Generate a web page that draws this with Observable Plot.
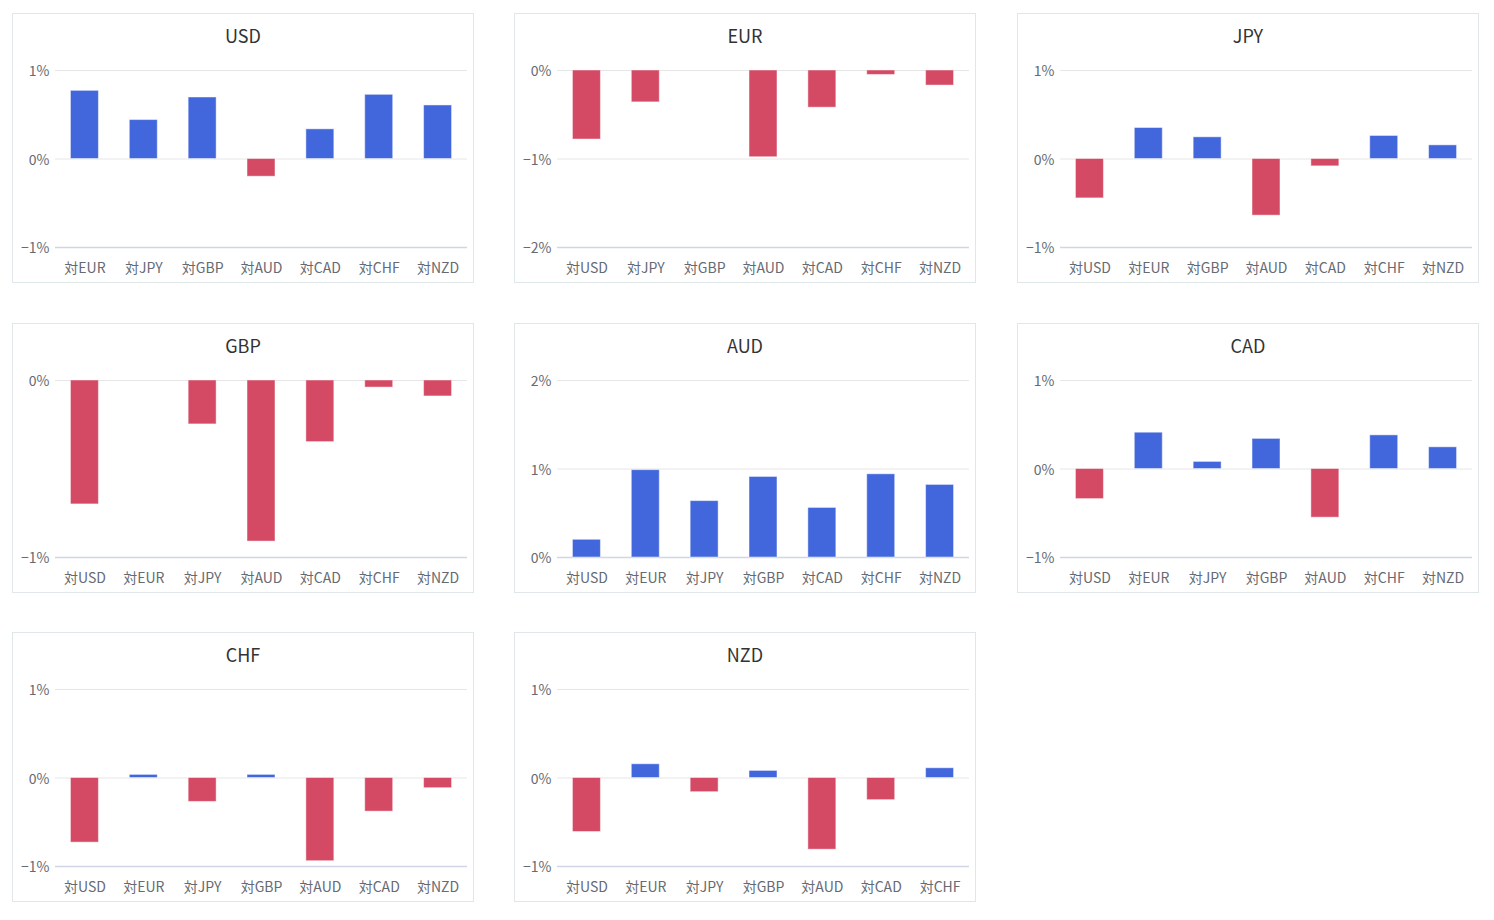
<!DOCTYPE html>
<html>
<head>
<meta charset="utf-8">
<script src="https://cdn.jsdelivr.net/npm/d3@7"></script>
<script src="https://cdn.jsdelivr.net/npm/@observablehq/plot@0.6"></script>
<style>
  html, body { margin: 0; padding: 0; background: #fff; }
  body { width: 1494px; height: 920px; position: relative; font-family: "Noto Sans CJK JP", "Noto Sans", sans-serif; }
  .panel { position: absolute; width: 462px; height: 270px; outline: 1px solid #dfe7e8; outline-offset: -1px; background: #fff; }
  .panel .title { position: absolute; left: 0; right: 0; top: 10px; height: 24px; line-height: 24px; text-align: center; font-size: 18px; color: #333; }
  .panel svg { position: absolute; left: 0; top: 0; }
</style>
</head>
<body>
<script>
// Currencies (panel titles)
const currencies = ["USD", "EUR", "JPY", "GBP", "AUD", "CAD", "CHF", "NZD"];

// Category labels per panel
const usdCats = ["対EUR", "対JPY", "対GBP", "対AUD", "対CAD", "対CHF", "対NZD"];
const eurCats = ["対USD", "対JPY", "対GBP", "対AUD", "対CAD", "対CHF", "対NZD"];
const jpyCats = ["対USD", "対EUR", "対GBP", "対AUD", "対CAD", "対CHF", "対NZD"];
const gbpCats = ["対USD", "対EUR", "対JPY", "対AUD", "対CAD", "対CHF", "対NZD"];
const audCats = ["対USD", "対EUR", "対JPY", "対GBP", "対CAD", "対CHF", "対NZD"];
const cadCats = ["対USD", "対EUR", "対JPY", "対GBP", "対AUD", "対CHF", "対NZD"];
const chfCats = ["対USD", "対EUR", "対JPY", "対GBP", "対AUD", "対CAD", "対NZD"];
const nzdCats = ["対USD", "対EUR", "対JPY", "対GBP", "対AUD", "対CAD", "対CHF"];

// Values (% change)
const usdVals = [0.77, 0.44, 0.695, -0.20, 0.335, 0.725, 0.605];
const eurVals = [-0.78, -0.36, 0, -0.98, -0.42, -0.05, -0.17];
const jpyVals = [-0.445, 0.35, 0.245, -0.64, -0.083, 0.26, 0.154];
const gbpVals = [-0.70, 0, -0.248, -0.91, -0.348, -0.04, -0.09];
const audVals = [0.20, 0.987, 0.637, 0.91, 0.56, 0.94, 0.82];
const cadVals = [-0.34, 0.41, 0.08, 0.34, -0.55, 0.38, 0.245];
const chfVals = [-0.73, 0.035, -0.27, 0.035, -0.94, -0.38, -0.115];
const nzdVals = [-0.61, 0.155, -0.16, 0.08, -0.81, -0.25, 0.11];

// Y axis tick values per panel (first/last = domain)
const usdTicks = [-1, 0, 1];
const eurTicks = [-2, -1, 0];
const jpyTicks = [-1, 0, 1];
const gbpTicks = [-1, 0];
const audTicks = [0, 1, 2];
const cadTicks = [-1, 0, 1];
const chfTicks = [-1, 0, 1];
const nzdTicks = [-1, 0, 1];

const panels = [
  [usdCats, usdVals, usdTicks],
  [eurCats, eurVals, eurTicks],
  [jpyCats, jpyVals, jpyTicks],
  [gbpCats, gbpVals, gbpTicks],
  [audCats, audVals, audTicks],
  [cadCats, cadVals, cadTicks],
  [chfCats, chfVals, chfTicks],
  [nzdCats, nzdVals, nzdTicks]
];

const BLUE = "#4267dc";
const RED = "#d44a64";
const colLeft = [12, 514, 1017];
const rowTop = [13, 323, 632];
const fmt = d => (d < 0 ? "\u2212" : "") + Math.abs(d) + "%";

currencies.forEach((cur, i) => {
  const [cats, vals, ticks] = panels[i];
  const data = cats.map((c, j) => ({cat: c, value: vals[j]}));
  const div = document.createElement("div");
  div.className = "panel";
  div.style.left = colLeft[i % 3] + "px";
  div.style.top = rowTop[Math.floor(i / 3)] + "px";
  const t = document.createElement("div");
  t.className = "title";
  t.textContent = cur;
  const chart = Plot.plot({
    width: 462,
    height: 270,
    marginTop: 57,
    marginBottom: 36,
    marginLeft: 43,
    marginRight: 7,
    style: {fontFamily: '"Noto Sans CJK JP", "Noto Sans", sans-serif', fontSize: "14px", color: "#666a73", background: "transparent", overflow: "visible"},
    x: {domain: cats, round: false, paddingInner: 0.525, paddingOuter: 0.2625, label: null, tickSize: 0, tickPadding: 16},
    y: {domain: [ticks[0], ticks[ticks.length - 1]], ticks: ticks, tickFormat: fmt, label: null, tickSize: 0, tickPadding: 6},
    marks: [
      Plot.ruleY(ticks.slice(1), {stroke: "#e6e6e6", strokeWidth: 1}),
      Plot.ruleY([ticks[0]], {stroke: "#d0d6e6", strokeWidth: 1.6}),
      Plot.barY(data, {x: "cat", y: "value", fill: d => d.value >= 0 ? BLUE : RED, stroke: "#ffffff", strokeOpacity: 0.45, strokeWidth: 1}),
      Plot.axisY({ticks: ticks, tickFormat: fmt, tickSize: 0, tickPadding: 6, dy: 1.5, label: null})
    ]
  });
  div.appendChild(chart);
  div.appendChild(t);
  document.body.appendChild(div);
});
</script>
</body>
</html>
